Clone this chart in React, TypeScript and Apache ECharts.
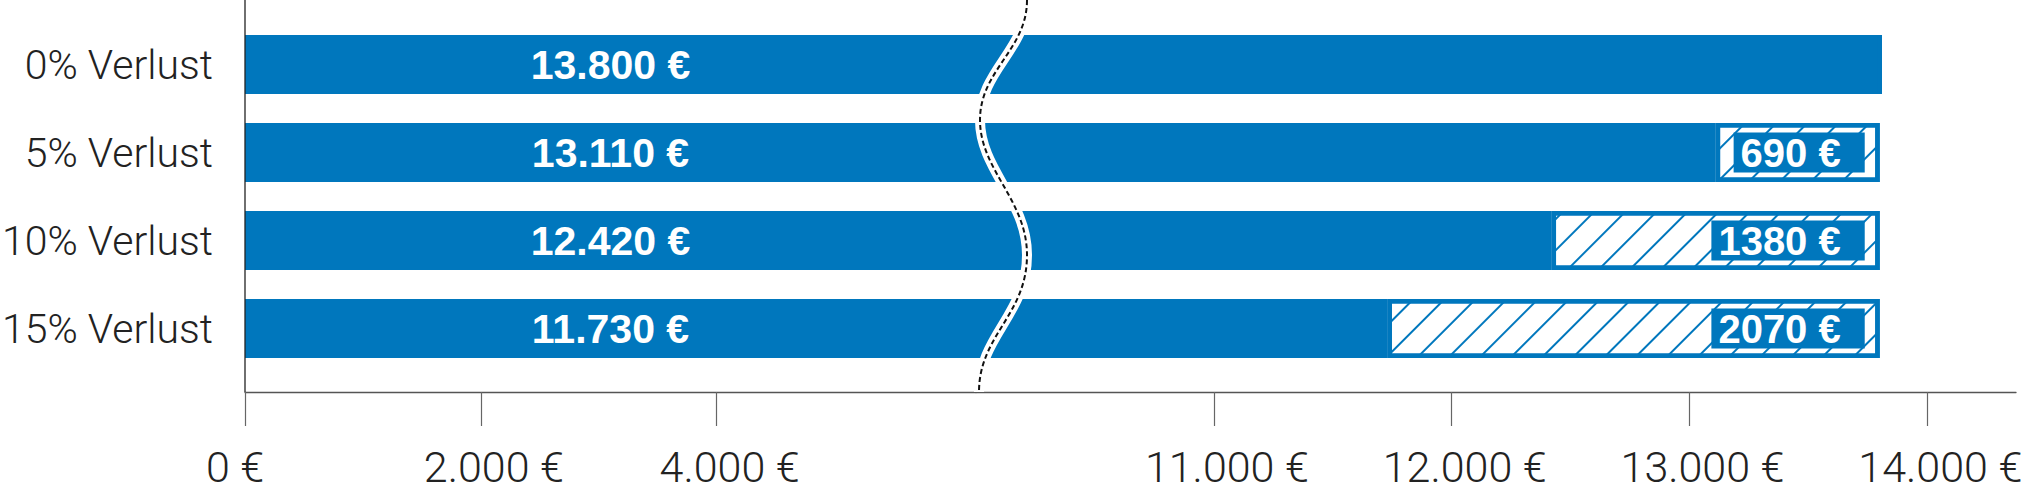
import { useEffect, useRef } from "react";
import * as echarts from "echarts";

// Werte je Verlustszenario
const categories = ["0% Verlust", "5% Verlust", "10% Verlust", "15% Verlust"];
const netValues = [13800, 13110, 12420, 11730];
const lossValues = [0, 690, 1380, 2070];

// Achsenabschnitte (unterbrochene Achse)
const leftTicks = [0, 2000, 4000];
const rightTicks = [11000, 12000, 13000, 14000];

const BLUE = "#0077bd";
const WAVE_D =
  "M1027,0 C1027,50 980,70 980,120 C980,170 1027,200 1027,255 C1027,315 979,335 979,392";

echarts.graphic.registerShape("breakWave", echarts.graphic.extendPath(WAVE_D, {}));

const fmtEuro = (v: number) => `${String(v).replace(/\B(?=(\d{3})+(?!\d))/g, ".")} €`;

const tickLabel = {
  show: true,
  margin: 53,
  fontSize: 43,
  fontFamily: "Roboto",
  fontWeight: 300,
  color: "#222",
  formatter: (v: number) => (v === 0 ? `{z|${fmtEuro(v)}}` : `{v|${fmtEuro(v)}}`),
  rich: {
    v: { padding: [0, 0, 0, 26] },
    z: { padding: [0, 20, 0, 0] },
  },
};

const axisLine = { show: true, lineStyle: { color: "#555", width: 1.3 } };
const tickStyle = { length: 34, lineStyle: { color: "#666", width: 1.2 } };

export default function App() {
  const ref = useRef<HTMLDivElement>(null);

  useEffect(() => {
    document.body.style.margin = "0";
    const el = ref.current;
    if (!el) return;
    const chart = echarts.init(el, null, { renderer: "svg" });

    const option: echarts.EChartsOption = {
      animation: false,
      grid: [
        { left: 245, width: 731, top: 20.5, height: 352, outerBoundsMode: "none" },
        { left: 976, width: 1040, top: 20.5, height: 352, outerBoundsMode: "none" },
      ] as any,
      xAxis: [
        {
          gridIndex: 0,
          type: "value",
          min: 0,
          max: 6200,
          offset: 19.5,
          splitLine: { show: false },
          axisLine,
          axisTick: { show: true, customValues: leftTicks, ...tickStyle },
          axisLabel: { ...tickLabel, customValues: leftTicks },
        },
        {
          gridIndex: 1,
          type: "value",
          min: 10000,
          max: 14373,
          offset: 19.5,
          splitLine: { show: false },
          axisLine,
          axisTick: { show: true, customValues: rightTicks, ...tickStyle },
          axisLabel: { ...tickLabel, customValues: rightTicks },
        },
      ] as any,
      yAxis: [
        {
          gridIndex: 0,
          type: "category",
          data: categories,
          inverse: true,
          axisLine: { show: false },
          axisTick: { show: false },
          axisLabel: {
            margin: 32,
            fontSize: 41,
            fontFamily: "Roboto",
            fontWeight: 300,
            color: "#222",
          },
        },
        {
          gridIndex: 1,
          type: "category",
          data: categories,
          inverse: true,
          show: false,
        },
      ],
      series: [
        {
          type: "bar",
          name: "Wert",
          xAxisIndex: 0,
          yAxisIndex: 0,
          data: netValues,
          barWidth: 59,
          silent: true,
          itemStyle: { color: BLUE },
          label: {
            show: true,
            position: "inside",
            formatter: (p: any) => fmtEuro(p.value),
            color: "#fff",
            textBorderWidth: 0,
            fontSize: 41,
            fontWeight: "bold",
            fontFamily: "Liberation Sans",
          },
        },
        {
          type: "bar",
          name: "Wert",
          xAxisIndex: 1,
          yAxisIndex: 1,
          stack: "gesamt",
          data: netValues,
          barWidth: 59,
          silent: true,
          itemStyle: { color: BLUE },
        },
        {
          type: "bar",
          name: "Verlust",
          xAxisIndex: 1,
          yAxisIndex: 1,
          stack: "gesamt",
          barWidth: 59,
          silent: true,
          data: lossValues.map((v) => (v > 0 ? v : { value: v, label: { show: false } })),
          itemStyle: {
            color: "#fff",
            borderColor: BLUE,
            borderWidth: 4.5,
            decal: {
              symbol: "rect",
              symbolSize: 1,
              color: BLUE,
              dashArrayX: [1, 0],
              dashArrayY: [1.2, 19.3],
              rotation: -Math.PI / 4,
            },
          },
          label: {
            show: true,
            position: "insideRight",
            distance: 15,
            formatter: (p: any) => `${p.value} €`,
            backgroundColor: BLUE,
            color: "#fff",
            textBorderWidth: 0,
            fontSize: 40,
            lineHeight: 40,
            fontWeight: "bold",
            fontFamily: "Liberation Sans",
            padding: [0, 24, 0, 7],
          },
        },
      ],
      graphic: [
        {
          type: "line",
          z: 50,
          silent: true,
          shape: { x1: 245, y1: 0, x2: 245, y2: 392 },
          style: { stroke: "#222", lineWidth: 1.3 },
        },
        {
          type: "breakWave",
          z: 100,
          silent: true,
          x: 0,
          y: 0,
          style: { fill: "none", stroke: "#fff", lineWidth: 10 },
        },
        {
          type: "breakWave",
          z: 101,
          silent: true,
          x: 0,
          y: 0,
          style: { fill: "none", stroke: "#111", lineWidth: 2, lineDash: [5, 3] },
        },
      ] as any,
    };

    chart.setOption(option);
    return () => chart.dispose();
  }, []);

  return <div ref={ref} style={{ width: 2033, height: 492 }} />;
}
